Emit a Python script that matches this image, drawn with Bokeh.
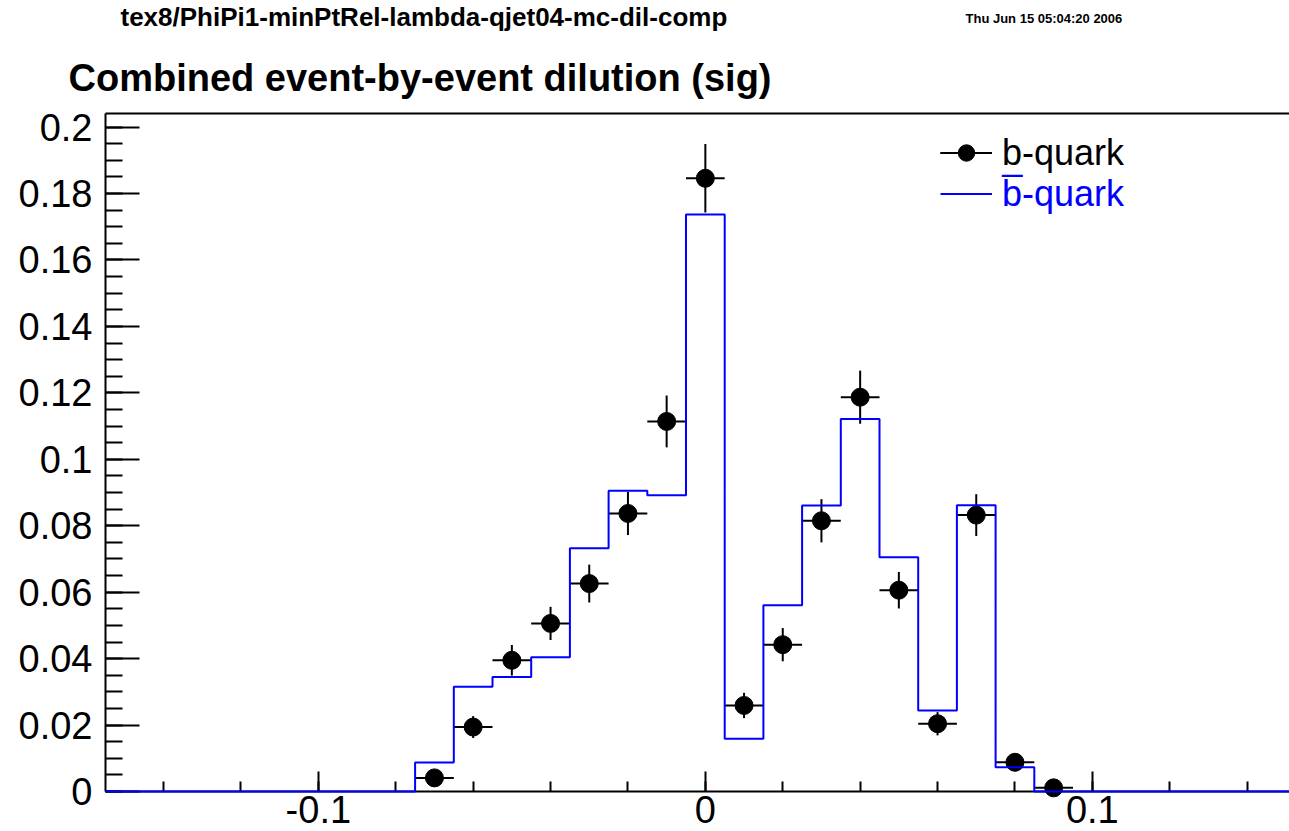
from bokeh.plotting import figure
from bokeh.models import (Range1d, FixedTicker, Label, Legend, LegendItem,
                          LinearAxis)
from bokeh.embed import file_html
from bokeh.resources import INLINE

# ---------------- data ----------------
bin_width = 0.01
hist_lo, hist_hi = -0.155, 0.155
b_centers = [-0.07, -0.06, -0.05, -0.04, -0.03, -0.02, -0.01, 0.00, 0.01,
             0.02, 0.03, 0.04, 0.05, 0.06, 0.07, 0.08, 0.09]
b_values = [0.0041, 0.0194, 0.0395, 0.0506, 0.0626, 0.0837, 0.1114, 0.1846,
            0.0259, 0.0442, 0.0815, 0.1187, 0.0606, 0.0204, 0.0832, 0.0088,
            0.0011]
b_errors = [0.0016, 0.0033, 0.0046, 0.0050, 0.0057, 0.0065, 0.0078, 0.0103,
            0.0038, 0.0050, 0.0065, 0.0080, 0.0055, 0.0035, 0.0063, 0.0022,
            0.0008]
bbar_centers = [-0.07, -0.06, -0.05, -0.04, -0.03, -0.02, -0.01, 0.00, 0.01,
                0.02, 0.03, 0.04, 0.05, 0.06, 0.07, 0.08]
bbar_values = [0.0087, 0.0315, 0.0345, 0.0404, 0.0732, 0.0905, 0.0892, 0.1737,
               0.0159, 0.0561, 0.0861, 0.1121, 0.0705, 0.0244, 0.0862, 0.0073]

x_tick_values = [-0.1, 0.0, 0.1]
x_tick_labels = ["-0.1", "0", "0.1"]
x_minor_ticks = [-0.14, -0.12, -0.1, -0.08, -0.06, -0.04, -0.02, 0.0, 0.02,
                 0.04, 0.06, 0.08, 0.1, 0.12, 0.14]
y_top = 0.2041
y_tick_values = [0.0, 0.02, 0.04, 0.06, 0.08, 0.1, 0.12, 0.14, 0.16, 0.18, 0.2]
y_tick_labels = ["0", "0.02", "0.04", "0.06", "0.08", "0.1", "0.12", "0.14",
                 "0.16", "0.18", "0.2"]
y_minor_ticks = [round(i * 0.005, 3) for i in range(41)]

header_text = "tex8/PhiPi1-minPtRel-lambda-qjet04-mc-dil-comp"
date_text = "Thu Jun 15 05:04:20 2006"
title_text = "Combined event-by-event dilution (sig)"
legend_b = "b-quark"
legend_bbar = "b\u0305-quark"

# ---------------- layout (pixels of the 1289x831 canvas) ----------------
FONT = "Liberation Sans"
W, H = 1289, 831
AX_LEFT_PX, AX_BOTTOM_PX, AX_TOP_PX = 105, 791, 113
sx = 3870.0                                   # px per x unit
sy = (AX_BOTTOM_PX - AX_TOP_PX) / y_top       # px per y unit
x_lo = hist_lo - AX_LEFT_PX / sx
x_hi = x_lo + W / sx
y_lo = -(H - AX_BOTTOM_PX) / sy
y_hi = AX_BOTTOM_PX / sy


def xd(px):
    return x_lo + px / sx


def yd(py):
    return y_hi - py / sy


p = figure(width=W, height=H, x_range=Range1d(x_lo, x_hi),
           y_range=Range1d(y_lo, y_hi), output_backend="svg",
           toolbar_location=None, title=None, min_border=0,
           min_border_left=0, min_border_right=0, min_border_top=0,
           min_border_bottom=0)
p.grid.visible = False
p.outline_line_color = None
p.background_fill_color = "white"
p.border_fill_color = "white"

# y axis
ya = p.yaxis[0]
ya.fixed_location = hist_lo
ya.bounds = (0, y_top)
ya.ticker = FixedTicker(ticks=y_tick_values, minor_ticks=y_minor_ticks)
ya.major_label_overrides = {v: s for v, s in zip(y_tick_values, y_tick_labels)}
ya.major_label_text_font = FONT
ya.major_label_text_font_size = "38px"
ya.major_label_text_color = "black"
ya.major_label_standoff = 13
ya.axis_line_width = 2
ya.axis_line_color = "black"
ya.major_tick_in = 34
ya.major_tick_out = 0
ya.minor_tick_in = 17
ya.minor_tick_out = 0
ya.major_tick_line_width = 2
ya.minor_tick_line_width = 2

# x axis
xa = p.xaxis[0]
xa.fixed_location = 0
xa.bounds = (hist_lo, hist_hi)
xa.ticker = FixedTicker(ticks=x_tick_values, minor_ticks=x_minor_ticks)
xa.major_label_overrides = {v: s for v, s in zip(x_tick_values, x_tick_labels)}
xa.major_label_text_font = FONT
xa.major_label_text_font_size = "38px"
xa.major_label_text_color = "black"
xa.major_label_standoff = 4
xa.axis_line_width = 2
xa.axis_line_color = "black"
xa.major_tick_in = 20
xa.major_tick_out = 0
xa.minor_tick_in = 10
xa.minor_tick_out = 0
xa.major_tick_line_width = 2
xa.minor_tick_line_width = 2

# top frame line
top = LinearAxis(ticker=FixedTicker(ticks=[], minor_ticks=[]),
                 fixed_location=y_top, bounds=(hist_lo, hist_hi),
                 major_tick_in=0, major_tick_out=0, minor_tick_in=0,
                 minor_tick_out=0, axis_line_width=2, axis_line_color="black")
p.add_layout(top, "above")

# ---------------- glyphs ----------------
edges = [c - bin_width / 2 for c in bbar_centers]
step_x = [hist_lo] + edges + [bbar_centers[-1] + bin_width / 2, hist_hi]
step_y = [0.0] + bbar_values + [0.0, 0.0]
step_r = p.step(x=step_x, y=step_y, mode="after", line_color="#0000ff",
                line_width=2, level="overlay")

hx0 = [c - bin_width / 2 for c in b_centers]
hx1 = [c + bin_width / 2 for c in b_centers]
vy0 = [v - e for v, e in zip(b_values, b_errors)]
vy1 = [v + e for v, e in zip(b_values, b_errors)]
hseg = p.segment(x0=hx0, y0=b_values, x1=hx1, y1=b_values,
                 line_color="black", line_width=2)
vseg = p.segment(x0=b_centers, y0=vy0, x1=b_centers, y1=vy1,
                 line_color="black", line_width=2)
pts = p.scatter(x=b_centers, y=b_values, marker="circle", size=18,
                fill_color="black", line_color="black")

# ---------------- legends ----------------
common = dict(orientation="vertical", glyph_width=52, glyph_height=41,
              label_height=41, label_standoff=10, label_text_font=FONT,
              label_text_font_size="36px", padding=0, margin=0, spacing=0,
              border_line_color=None, background_fill_alpha=0)
leg1 = Legend(items=[LegendItem(label=legend_b, renderers=[hseg, vseg, pts])],
              location=(940, H - 173.5), label_text_color="black", **common)
leg2 = Legend(items=[LegendItem(label=legend_bbar, renderers=[step_r])],
              location=(940, H - 214.5), label_text_color="#0000ff", **common)
p.add_layout(leg1)
p.add_layout(leg2)

# ---------------- texts ----------------
p.add_layout(Label(x=xd(120), y=yd(16), text=header_text, text_font=FONT,
                   text_font_style="bold", text_font_size="26px",
                   text_color="black", text_align="left",
                   text_baseline="alphabetic"))
p.add_layout(Label(x=xd(965), y=yd(18), text=date_text, text_font=FONT,
                   text_font_style="bold", text_font_size="13px",
                   text_color="black", text_align="left",
                   text_baseline="alphabetic"))
p.add_layout(Label(x=xd(68), y=yd(77), text=title_text, text_font=FONT,
                   text_font_style="bold", text_font_size="38px",
                   text_color="black", text_align="left",
                   text_baseline="alphabetic"))

open("out.html", "w").write(file_html(p, INLINE))
